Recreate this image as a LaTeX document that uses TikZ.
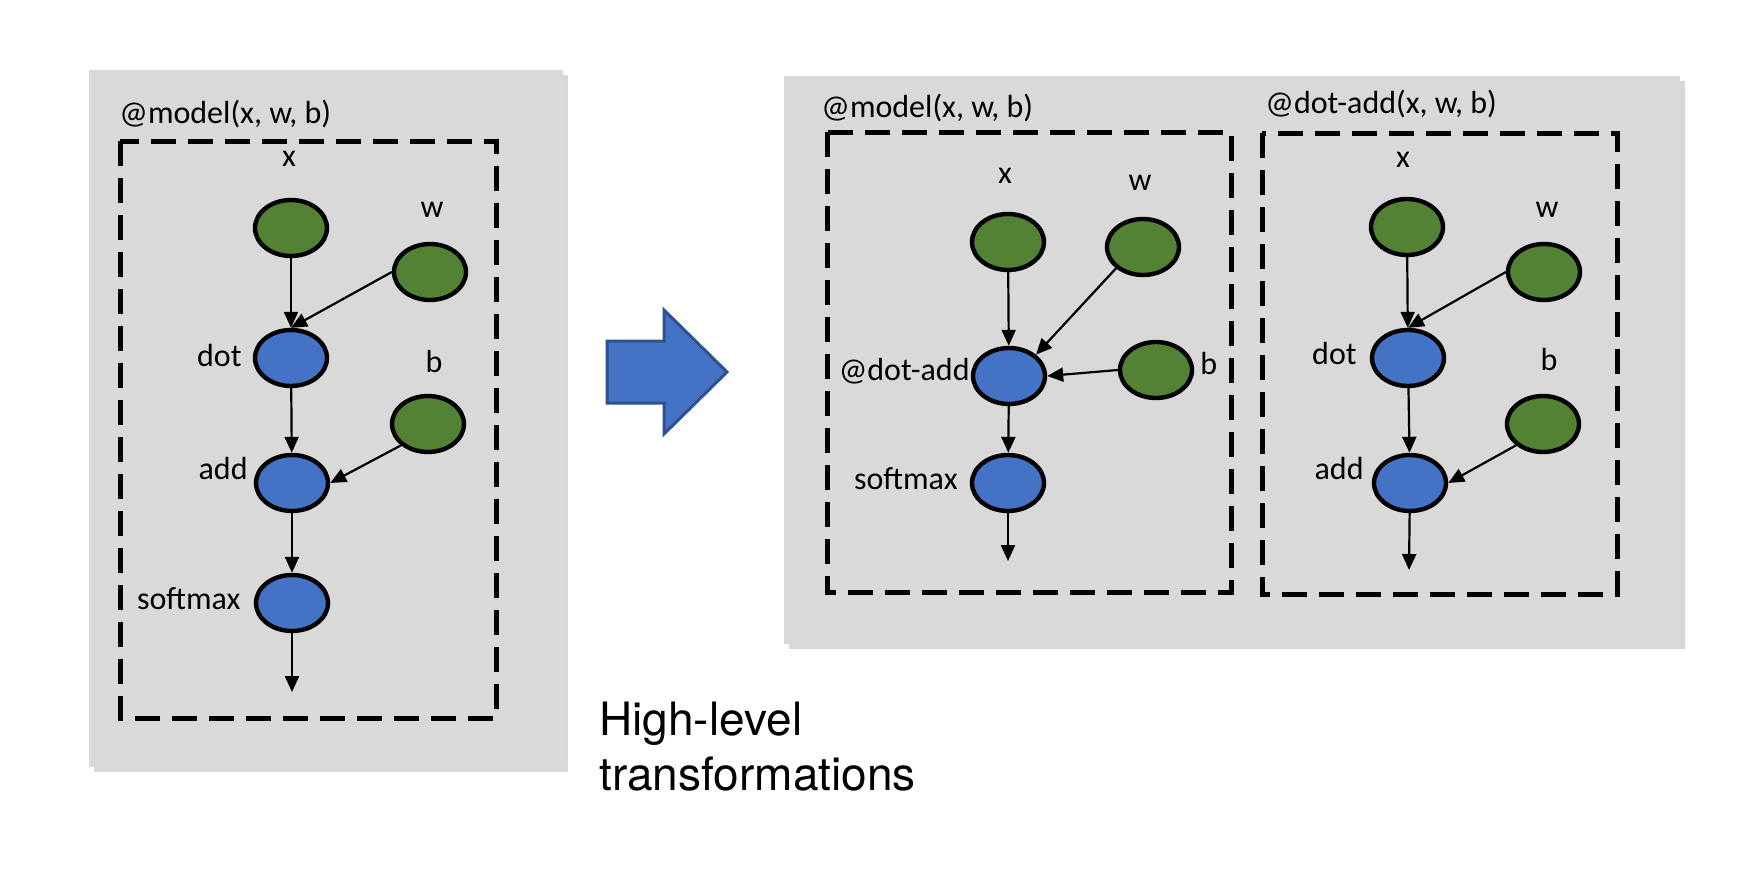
\documentclass[tikz,border=0pt]{standalone}
\usepackage{fontspec}
\setmainfont{Carlito}
\newfontfamily\herosfont{TeX Gyre Heros}
\usepackage{tikz}
\usetikzlibrary{arrows.meta,shapes.geometric,shadows}
\definecolor{panelgray}{HTML}{D9D9D9}
\definecolor{leafgreen}{HTML}{548235}
\definecolor{opblue}{HTML}{4472C4}
\definecolor{arrowedge}{HTML}{2F528F}

\begin{document}
\begin{tikzpicture}[x=0.5pt, y=-0.5pt,
		panel/.style={fill=panelgray, drop shadow={shadow xshift=2.5pt, shadow yshift=-2.5pt, opacity=0.3}},
		region/.style={draw=black, line width=2.5pt, dash pattern=on 12.5pt off 6pt},
		leaf/.style={ellipse, draw=black, line width=2.2pt, fill=leafgreen, minimum width=36pt, minimum height=28pt, inner sep=0pt},
		op/.style={leaf, fill=opblue},
		lbl/.style={font=\fontsize{16}{18}\selectfont, inner sep=0pt},
		flow/.style={-{Triangle[length=8pt, width=7pt]}, line width=1.1pt},
		bigtxt/.style={font=\herosfont\fontsize{23}{27.5}\selectfont, inner sep=0pt},
	]
	\useasboundingbox (0,0) rectangle (1742,884);
	\fill[white] (0,0) rectangle (1742,884);
	
	% panels
	\path[panel] (89,70) rectangle (563,767);
	\path[panel] (784,76) rectangle (1680,644);
	\draw[region] (120,141) rectangle (496,718);
	\draw[region] (827,132) rectangle (1231,592);
	\draw[region] (1262,133) rectangle (1617,594);
	\node[lbl, anchor=west] (title1) at (119,114) {@model(x, w, b)};
	\node[lbl, anchor=west] (title2) at (821,108) {@model(x, w, b)};
	\node[lbl, anchor=west] (title3) at (1265,104) {@dot-add(x, w, b)};
	
	% original graph
	\node[leaf] (x1) at (291,228) {};
	\node[leaf] (w1) at (430,272) {};
	\node[op] (dot1) at (291,358) {};
	\node[leaf] (b1) at (428,424) {};
	\node[op] (add1) at (292,483) {};
	\node[op] (sm1) at (292,603) {};
	\coordinate (out1) at (292,692);
	\node[lbl] (x1lab) at (289,159) {x};
	\node[lbl] (w1lab) at (432,210) {w};
	\node[lbl, anchor=east] (dot1lab) at (242,356) {dot};
	\node[lbl] (b1lab) at (434,361) {b};
	\node[lbl, anchor=east] (add1lab) at (248,469) {add};
	\node[lbl, anchor=east] (sm1lab) at (241,599) {softmax};
	\draw[flow] (x1) -- (dot1);
	\draw[flow] (w1.west) -- (dot1.north);
	\draw[flow] (dot1) -- (add1);
	\draw[flow] (b1.south west) -- (add1.east);
	\draw[flow] (add1) -- (sm1);
	\draw[flow] (sm1) -- (out1);
	
	% transformed model
	\node[leaf] (x2) at (1008,242) {};
	\node[leaf] (w2) at (1143,247) {};
	\node[op] (da2) at (1009,376) {};
	\node[leaf] (b2) at (1156,370) {};
	\node[op] (sm2) at (1008,483) {};
	\coordinate (out2) at (1008,561);
	\node[lbl] (x2lab) at (1005,176) {x};
	\node[lbl] (w2lab) at (1140,183) {w};
	\node[lbl, anchor=east] (da2lab) at (970,371) {@dot-add};
	\node[lbl, anchor=west] (b2lab) at (1200,363) {b};
	\node[lbl, anchor=east] (sm2lab) at (958,479) {softmax};
	\draw[flow] (x2) -- (da2);
	\draw[flow] (w2.south west) -- (da2.north east);
	\draw[flow] (b2.west) -- (da2.east);
	\draw[flow] (da2) -- (sm2);
	\draw[flow] (sm2) -- (out2);
	
	% extracted dot-add
	\node[leaf] (x3) at (1407,227) {};
	\node[leaf] (w3) at (1544,272) {};
	\node[op] (dot3) at (1408,358) {};
	\node[leaf] (b3) at (1543,424) {};
	\node[op] (add3) at (1410,483) {};
	\coordinate (out3) at (1409,570);
	\node[lbl] (x3lab) at (1403,160) {x};
	\node[lbl] (w3lab) at (1547,210) {w};
	\node[lbl, anchor=east] (dot3lab) at (1357,354) {dot};
	\node[lbl] (b3lab) at (1549,359) {b};
	\node[lbl, anchor=east] (add3lab) at (1364,469) {add};
	\draw[flow] (x3) -- (dot3);
	\draw[flow] (w3.west) -- (dot3.north);
	\draw[flow] (dot3) -- (add3);
	\draw[flow] (b3.south west) -- (add3.east);
	\draw[flow] (add3) -- (out3);
	
	% big arrow and caption
	\draw[fill=opblue, draw=arrowedge, line width=1.5pt, line join=miter]
		(607,341) -- (664,341) -- (664,310) -- (727,372) -- (664,434) -- (664,403) -- (607,403) -- cycle;
	\node[bigtxt, anchor=base west] (cap1) at (599,735) {High-level};
	\node[bigtxt, anchor=base west] (cap2) at (599,790) {transformations};
\end{tikzpicture}
\end{document}
